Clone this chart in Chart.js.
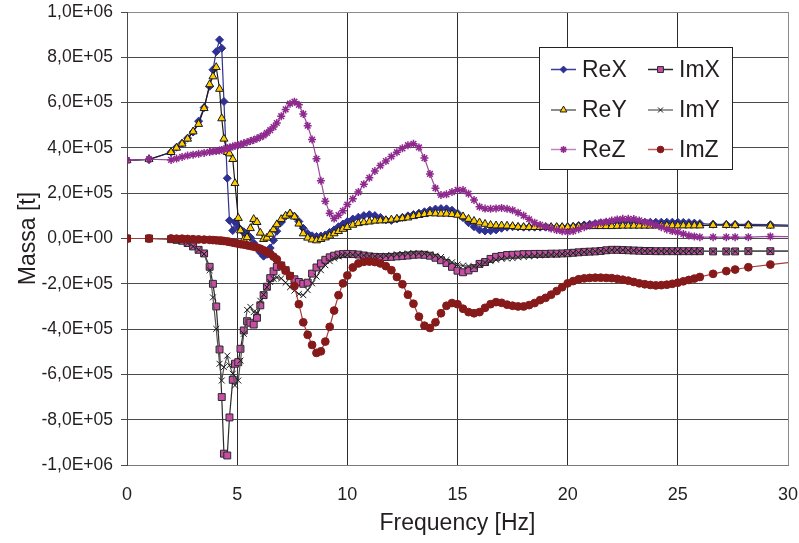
<!DOCTYPE html>
<html>
<head>
<meta charset="utf-8">
<script src="https://cdn.jsdelivr.net/npm/chart.js@4/dist/chart.umd.min.js"></script>
<style>
  html, body { margin: 0; padding: 0; background: #fff; }
  canvas { display: block; }
</style>
</head>
<body>
<canvas id="massChart" width="799" height="543"></canvas>
<script>
// Frequency grid [Hz]
const freq = [
  0, 1,
  2.0, 2.25, 2.5, 2.75, 3.0, 3.25, 3.5, 3.75,
  3.9, 4.05, 4.2, 4.3, 4.4, 4.55, 4.65, 4.8, 4.9, 5.05, 5.15, 5.3, 5.45, 5.6, 5.75, 5.9, 6.05, 6.2, 6.35, 6.5, 6.65, 6.8,
  7.0, 7.2, 7.4, 7.6, 7.8, 8.0, 8.2, 8.4, 8.6, 8.8, 9.0, 9.2, 9.4, 9.6, 9.8,
  10.0, 10.25, 10.5, 10.75, 11.0, 11.25, 11.5, 11.75, 12.0, 12.25, 12.5, 12.75, 13.0, 13.25, 13.5, 13.75, 14.0, 14.25, 14.5, 14.75,
  15.0, 15.25, 15.5, 15.75, 16.0, 16.25, 16.5, 16.75, 17.0, 17.25, 17.5, 17.75, 18.0, 18.25, 18.5, 18.75, 19.0, 19.25, 19.5, 19.75,
  20.0, 20.25, 20.5, 20.75, 21.0, 21.25, 21.5, 21.75, 22.0, 22.25, 22.5, 22.75, 23.0, 23.25, 23.5, 23.75, 24.0, 24.25, 24.5, 24.75,
  25.0, 25.25, 25.5, 25.75, 26.0,
  26.6, 27.2, 27.6, 28.2, 29.2, 30.6
];

// Added mass components, in thousands of tonnes
const reX = [
  345, 348,
  381, 403, 420, 443, 470, 518, 578, 672,
  745, 825, 877, 840, 605, 266, 80, 35, 72, 50, 40, 30, 18, 5, -20, -42, -62, -78, -70, -42, -8, 32,
  72, 98, 109, 98, 75, 45, 22, 12, 9, 11, 16, 27, 38, 52, 64,
  75, 86, 94, 101, 105, 101, 93, 82, 80, 86, 93, 100, 106, 112, 118, 125, 130, 132, 131, 125,
  112, 92, 70, 52, 38, 33, 34, 38, 45, 50, 52, 51, 50, 50, 50, 50, 50, 50, 50, 50,
  51, 53, 57, 60, 63, 66, 69, 71, 72, 73, 73, 73, 72, 72, 72, 72, 72, 72, 72, 72,
  72, 71, 70, 68, 66,
  63, 62, 62, 62, 61, 57
];
const reY = [
  345, 350,
  381, 400, 418, 440, 472, 505, 575, 680,
  715, 756, 660, 530, 440, 381, 375, 350, 244, 90, 35, -5, 5, 45, 85, 72, 25, -3, 3, 20, 40, 62,
  85, 100, 110, 96, 65, 22, 3, -5, -9, -3, 4, 12, 22, 32, 42,
  50, 60, 67, 71, 74, 78, 79, 80, 83, 87, 89, 92, 98, 103, 107, 111, 110, 109, 109, 107,
  104, 97, 86, 77, 70, 64, 59, 57, 57, 56, 54, 51, 50, 50, 50, 50, 50, 50, 50, 50,
  50, 51, 53, 54, 54, 54, 54, 54, 54, 55, 56, 56, 56, 56, 56, 56, 57, 57, 57, 57,
  57, 57, 57, 57, 57,
  59, 59, 58, 57, 56, 53
];
const reZ = [
  345, 350,
  347, 353, 360, 366, 370, 374, 378, 382,
  385, 386, 388, 391, 394, 398, 402, 406, 409, 412, 415, 420, 425, 430, 435, 441, 448, 455, 466, 478, 492, 510,
  540, 570, 595, 604, 590, 550, 498, 437, 352, 255, 165, 112, 88, 103, 122,
  150, 175, 205, 240, 268, 298, 322, 342, 362, 381, 398, 412, 418, 402, 355, 285, 222, 192, 195, 205,
  215, 214, 198, 170, 140, 132, 131, 133, 135, 131, 125, 114, 101, 85, 70, 60, 52, 44, 37, 32,
  29, 33, 41, 50, 57, 64, 70, 74, 79, 84, 87, 87, 86, 80, 72, 67, 60, 50, 40, 33,
  28, 20, 13, 9, 6,
  6, 6, 6, 6, 9, 8
];
const imX = [
  0, 0,
  -3, -6, -10, -20, -35, -50, -66, -125,
  -200, -300, -490, -700, -950, -958, -790, -624, -553, -546, -487, -406, -365, -372, -380, -350, -295, -250, -213, -175, -145, -125,
  -119, -140, -165, -180, -192, -200, -195, -155, -128, -110, -94, -83, -76, -71, -69,
  -68, -69, -71, -75, -79, -81, -82, -82, -81, -79, -77, -75, -72, -71, -72, -76, -85, -96, -108, -125,
  -142, -149, -141, -131, -112, -104, -90, -81, -77, -73, -72, -71, -69, -69, -68, -68, -68, -67, -67, -66,
  -65, -63, -61, -59, -58, -57, -55, -52, -50, -50, -51, -52, -53, -54, -55, -55, -56, -56, -56, -56,
  -56, -56, -56, -56, -56,
  -57, -57, -57, -56, -56, -56
];
const imY = [
  0, 0,
  -3, -6, -10, -20, -35, -50, -68, -140,
  -260, -399, -553, -627, -568, -517, -560, -597, -649, -627, -539, -421, -315, -302, -325, -328, -275, -248, -215, -192, -178, -172,
  -176, -195, -215, -230, -245, -250, -228, -198, -168, -140, -118, -100, -88, -79, -74,
  -72, -71, -73, -75, -77, -79, -78, -76, -73, -70, -68, -66, -65, -66, -67, -70, -76, -82, -95, -105,
  -115, -120, -122, -124, -115, -106, -100, -94, -89, -88, -87, -83, -81, -79, -77, -75, -73, -71, -70, -68,
  -66, -64, -62, -60, -58, -57, -55, -53, -51, -50, -51, -52, -53, -54, -55, -55, -56, -56, -56, -56,
  -56, -56, -56, -56, -56,
  -57, -57, -57, -56, -56, -56
];
const imZ = [
  0, 0,
  0, -1, -1, -2, -3, -4, -5, -6,
  -7, -8, -9, -10, -11, -13, -15, -18, -20, -23, -25, -27, -30, -33, -36, -40, -45, -52, -60, -68, -80, -92,
  -120, -142, -165, -210, -290, -370, -425, -470, -505, -498, -455, -390, -318, -250, -198,
  -163, -128, -110, -103, -102, -104, -110, -122, -140, -170, -202, -248, -288, -345, -385, -395, -370, -330, -297, -285,
  -290, -310, -325, -330, -325, -306, -290, -281, -284, -292, -297, -300, -300, -294, -285, -272, -262, -248, -232, -215,
  -198, -188, -180, -176, -174, -173, -173, -174, -175, -178, -182, -186, -192, -198, -202, -205, -207, -206, -204, -200,
  -195, -189, -183, -177, -170,
  -156, -144, -137, -127, -115, -100
];

const seriesLabels = ['ReX', 'ReY', 'ReZ', 'ImX', 'ImY', 'ImZ'];
const xTickStep = 5;
const yTickStep = 2e5;

const FONT = "'Liberation Sans', Arial, Helvetica, sans-serif";
const TEXT = '#231f20';

// marker / line appearance per series
const looks = [
  { style: 'rectRot',  r: 4.0, fill: '#2e3192', edge: '#2e3192', line: '#2e3192', legendLine: '#3b3f9a', bw: 1 },
  { style: 'triangle', r: 4.6, fill: '#ffcc00', edge: '#1a1a1a', line: '#1a1a1a', legendLine: '#666666', bw: 1 },
  { style: 'star',     r: 4.0, fill: '#8e2a8e', edge: '#8e2a8e', line: '#9c4a9c', legendLine: '#c184c1', bw: 1.5 },
  { style: 'rect',     r: 4.9, fill: '#c64fa5', edge: '#2a2a2a', line: '#2a2a2a', legendLine: '#2a2a2a', bw: 1 },
  { style: 'crossRot', r: 4.2, fill: '#1a1a1a', edge: '#1a1a1a', line: '#555555', legendLine: '#777777', bw: 1 },
  { style: 'circle',   r: 3.9, fill: '#861a1a', edge: '#861a1a', line: '#a83a3a', legendLine: '#c06060', bw: 1 }
];

const values = [reX, reY, reZ, imX, imY, imZ];

const datasets = values.map((arr, i) => ({
  label: seriesLabels[i],
  data: freq.map((f, k) => ({ x: f, y: arr[k] * 1000 })),
  borderColor: looks[i].line,
  borderWidth: 1.2,
  backgroundColor: looks[i].fill,
  pointStyle: looks[i].style,
  pointRadius: looks[i].r,
  pointBackgroundColor: looks[i].fill,
  pointBorderColor: looks[i].edge,
  pointBorderWidth: looks[i].bw,
  tension: 0,
  fill: false,
  order: values.length - i
}));

function sciLabel(v) {
  if (Math.abs(v) < 1) return '0,0E+00';
  const sign = v < 0 ? '-' : '';
  const a = Math.abs(v);
  let e = Math.floor(Math.log10(a) + 1e-9);
  let m = a / Math.pow(10, e);
  if (m >= 9.95) { m /= 10; e += 1; }
  return sign + m.toFixed(1).replace('.', ',') + 'E' + (e < 0 ? '-' : '+') + String(Math.abs(e)).padStart(2, '0');
}

function drawMarker(ctx, look, x, y) {
  const r = look.r;
  ctx.save();
  ctx.fillStyle = look.fill;
  ctx.strokeStyle = look.edge;
  ctx.lineWidth = look.bw;
  ctx.beginPath();
  switch (look.style) {
    case 'rectRot':
      ctx.moveTo(x, y - r); ctx.lineTo(x + r, y); ctx.lineTo(x, y + r); ctx.lineTo(x - r, y); ctx.closePath();
      ctx.fill(); ctx.stroke(); break;
    case 'triangle': {
      const w = r * Math.sqrt(3) / 2;
      ctx.moveTo(x, y - r); ctx.lineTo(x + w, y + r / 2); ctx.lineTo(x - w, y + r / 2); ctx.closePath();
      ctx.fill(); ctx.stroke(); break;
    }
    case 'star': {
      for (let k = 0; k < 4; k++) {
        const a = k * Math.PI / 4;
        ctx.moveTo(x - Math.cos(a) * r, y - Math.sin(a) * r);
        ctx.lineTo(x + Math.cos(a) * r, y + Math.sin(a) * r);
      }
      ctx.stroke(); break;
    }
    case 'rect': {
      const s = r * Math.SQRT1_2;
      ctx.rect(x - s, y - s, 2 * s, 2 * s);
      ctx.fill(); ctx.stroke(); break;
    }
    case 'crossRot': {
      const s = r * Math.SQRT1_2;
      ctx.moveTo(x - s, y - s); ctx.lineTo(x + s, y + s);
      ctx.moveTo(x + s, y - s); ctx.lineTo(x - s, y + s);
      ctx.stroke(); break;
    }
    default:
      ctx.arc(x, y, r, 0, Math.PI * 2);
      ctx.fill(); ctx.stroke();
  }
  ctx.restore();
}

// boxed two-column legend inside the plot area
const boxLegend = {
  id: 'boxLegend',
  afterDraw(chart) {
    const ctx = chart.ctx;
    const box = { x: 539.5, y: 47.5, w: 193, h: 122 };
    ctx.save();
    ctx.fillStyle = '#ffffff';
    ctx.fillRect(box.x, box.y, box.w, box.h);
    ctx.strokeStyle = '#222222';
    ctx.lineWidth = 1;
    ctx.strokeRect(box.x, box.y, box.w, box.h);
    const rows = [69.5, 110, 149.5];
    const cols = [{ l0: 551, l1: 576, tx: 582 }, { l0: 648, l1: 673, tx: 679 }];
    ctx.font = '23px ' + FONT;
    ctx.textBaseline = 'middle';
    ctx.textAlign = 'left';
    seriesLabels.forEach((name, i) => {
      const c = cols[Math.floor(i / 3)];
      const y = rows[i % 3];
      const look = Object.assign({}, looks[i], { r: looks[i].r * 0.85 });
      ctx.strokeStyle = look.legendLine;
      ctx.lineWidth = 1.5;
      ctx.beginPath();
      ctx.moveTo(c.l0, y); ctx.lineTo(c.l1, y);
      ctx.stroke();
      drawMarker(ctx, look, (c.l0 + c.l1) / 2, y);
      ctx.fillStyle = TEXT;
      ctx.fillText(name, c.tx, y + 1);
    });
    ctx.restore();
  }
};

new Chart(document.getElementById('massChart'), {
  type: 'line',
  data: { datasets },
  plugins: [boxLegend],
  options: {
    responsive: false,
    animation: false,
    devicePixelRatio: 1,
    layout: { padding: { top: 12, right: 11, left: 0, bottom: 0 } },
    plugins: {
      legend: { display: false },
      tooltip: { enabled: false }
    },
    elements: { line: { borderJoinStyle: 'round' } },
    scales: {
      x: {
        type: 'linear',
        min: 0,
        max: 30,
        ticks: {
          stepSize: xTickStep,
          color: TEXT,
          font: { family: FONT, size: 18 },
          padding: 19,
          maxRotation: 0
        },
        grid: {
          drawTicks: false,
          lineWidth: 1,
          color: c => (c.tick && c.tick.value === 30) ? '#8a8a8a' : '#2b2b2b'
        },
        border: { color: '#7a7a7a', width: 1 },
        title: {
          display: true,
          text: 'Frequency [Hz]',
          color: TEXT,
          font: { family: FONT, size: 23 },
          padding: { top: 0, bottom: 6 }
        },
        afterFit(scale) {
          scale.height = 78;
          scale.paddingLeft = 0;
          scale.paddingRight = 0;
        }
      },
      y: {
        type: 'linear',
        min: -1e6,
        max: 1e6,
        ticks: {
          stepSize: yTickStep,
          color: TEXT,
          font: { family: FONT, size: 17.5 },
          padding: 8,
          callback: v => sciLabel(v)
        },
        grid: {
          tickLength: 6,
          lineWidth: 1,
          color: c => (c.tick && c.tick.value === 1e6) ? '#8a8a8a' : '#4a4a4a',
          tickColor: '#4a4a4a'
        },
        border: { color: '#4a4a4a', width: 1 },
        title: {
          display: true,
          text: 'Massa [t]',
          color: TEXT,
          font: { family: FONT, size: 23 },
          padding: { top: 15, bottom: 0 }
        },
        afterFit(scale) {
          scale.width = 127;
          scale.paddingTop = 0;
          scale.paddingBottom = 0;
        }
      }
    }
  }
});
</script>
</body>
</html>
